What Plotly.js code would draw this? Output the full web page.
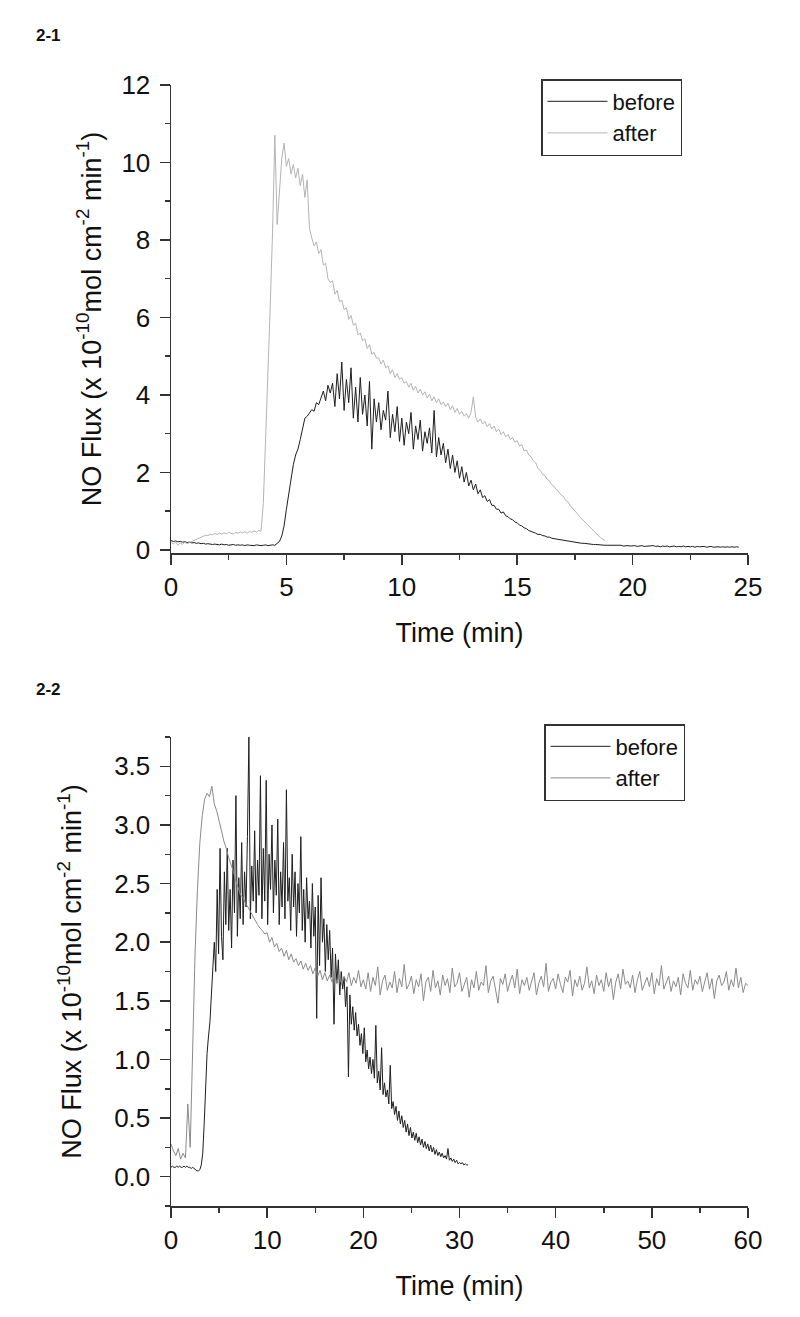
<!DOCTYPE html>
<html>
<head>
<meta charset="utf-8">
<script src="https://cdn.plot.ly/plotly-3.0.1.min.js"></script>
<style>html,body{margin:0;padding:0;background:#fff;}#chart{width:800px;height:1317px;}</style>
</head>
<body>
<div id="chart"></div>
<script>
// ---------- Panel 2-1 ----------
var p1_before_t0 = 0, p1_before_dt = 0.1;   // minutes
var p1_before = [
0.24,0.22,0.23,0.21,0.22,0.20,0.21,0.19,0.20,0.18,
0.19,0.17,0.18,0.16,0.17,0.15,0.16,0.15,0.14,0.15,
0.14,0.13,0.15,0.13,0.14,0.12,0.13,0.14,0.12,0.13,
0.12,0.13,0.11,0.13,0.12,0.12,0.11,0.13,0.12,0.11,
0.12,0.13,0.11,0.12,0.13,0.12,0.16,0.22,0.36,0.62,
1.05,1.45,1.85,2.20,2.45,2.60,2.85,3.10,3.40,3.45,
3.55,3.62,3.58,3.80,3.75,3.95,4.10,3.85,4.25,4.05,
4.30,3.70,4.55,3.90,4.85,3.60,4.40,3.80,4.70,3.40,
4.20,3.30,4.45,3.50,4.00,3.20,4.35,2.60,3.90,3.30,
3.80,3.10,3.60,3.35,4.10,2.90,3.50,3.05,3.70,2.80,
3.40,2.70,3.30,3.00,3.55,2.60,3.20,2.85,3.35,2.55,
3.05,2.75,3.15,2.50,3.60,2.40,2.90,2.45,2.75,2.25,
2.60,2.10,2.45,2.00,2.30,1.85,2.15,1.75,2.00,1.65,
1.80,1.55,1.70,1.45,1.55,1.35,1.40,1.25,1.30,1.15,
1.15,1.05,1.05,0.95,0.98,0.88,0.86,0.80,0.78,0.72,
0.70,0.64,0.62,0.57,0.55,0.50,0.48,0.45,0.43,0.40,
0.40,0.37,0.36,0.33,0.33,0.30,0.29,0.27,0.27,0.25,
0.24,0.23,0.22,0.21,0.20,0.19,0.19,0.18,0.17,0.17,
0.16,0.15,0.15,0.14,0.14,0.13,0.13,0.13,0.12,0.12,
0.12,0.11,0.12,0.11,0.11,0.12,0.10,0.11,0.11,0.10,
0.10,0.11,0.09,0.10,0.11,0.09,0.10,0.09,0.10,0.11,
0.09,0.10,0.08,0.10,0.09,0.10,0.08,0.09,0.10,0.08,
0.09,0.08,0.10,0.08,0.09,0.08,0.09,0.07,0.09,0.08,
0.08,0.09,0.07,0.08,0.09,0.07,0.08,0.08,0.07,0.08,
0.07,0.08,0.07,0.08,0.07,0.08,0.07
];
var p1_after_t0 = 0, p1_after_dt = 0.1;
var p1_after = [
0.22,0.15,0.20,0.12,0.18,0.14,0.20,0.16,0.19,0.22,
0.24,0.28,0.31,0.33,0.36,0.38,0.37,0.40,0.39,0.42,
0.40,0.43,0.41,0.44,0.42,0.45,0.43,0.41,0.45,0.43,
0.46,0.44,0.47,0.43,0.48,0.45,0.49,0.46,0.50,0.48,
1.20,2.80,4.40,6.30,8.20,10.70,8.40,9.20,10.10,10.50,
9.90,10.10,9.70,9.95,9.60,9.85,9.40,9.70,9.10,9.55,
8.30,8.05,7.85,7.95,7.65,7.75,7.35,7.40,7.00,6.90,
6.95,6.60,6.70,6.40,6.45,6.20,6.25,5.95,6.05,5.80,
5.85,5.55,5.60,5.40,5.45,5.20,5.30,5.05,5.10,4.95,
4.95,4.80,4.90,4.70,4.75,4.55,4.65,4.45,4.55,4.40,
4.45,4.30,4.35,4.20,4.30,4.12,4.22,4.05,4.15,4.00,
4.08,3.92,4.02,3.85,3.95,3.80,3.90,3.75,3.82,3.70,
3.78,3.62,3.72,3.55,3.65,3.50,3.58,3.45,3.52,3.40,
3.55,3.95,3.42,3.30,3.38,3.25,3.32,3.18,3.26,3.12,
3.20,3.05,3.12,2.98,3.05,2.92,2.98,2.85,2.90,2.78,
2.82,2.68,2.72,2.55,2.58,2.45,2.40,2.30,2.25,2.10,
2.05,1.95,1.92,1.82,1.78,1.68,1.64,1.55,1.50,1.42,
1.38,1.28,1.24,1.14,1.08,1.00,0.94,0.86,0.80,0.72,
0.68,0.60,0.55,0.48,0.42,0.38,0.32,0.28,0.24
];

// ---------- Panel 2-2 ----------
var p2_before_t0 = 0, p2_before_dt = 0.15;
var p2_before = [
0.08,0.09,0.08,0.08,0.09,0.08,0.09,0.08,0.08,0.09,
0.08,0.09,0.08,0.08,0.07,0.08,0.07,0.06,0.05,0.05,
0.06,0.10,0.20,0.45,0.85,1.05,1.20,1.32,1.55,1.75,
2.00,1.75,2.45,1.90,2.80,2.05,1.85,2.60,2.15,2.80,
2.10,2.45,1.95,2.70,2.25,3.25,2.05,2.55,2.20,2.85,
2.15,2.60,2.30,2.90,3.75,2.20,2.65,2.35,2.95,2.25,
2.70,2.40,3.42,2.20,2.80,2.35,3.38,2.15,2.75,2.45,
3.00,2.25,2.70,2.40,3.05,2.15,2.60,2.30,2.85,2.20,
3.30,2.35,2.55,2.10,2.75,2.30,2.60,2.05,2.50,2.25,
2.90,2.10,2.45,2.00,2.55,2.20,2.35,1.95,2.50,2.05,
2.30,1.35,2.40,1.80,2.55,2.00,2.20,1.75,2.15,1.85,
2.10,1.70,1.95,1.30,1.90,1.65,1.85,1.55,1.75,1.60,
1.70,1.45,1.62,0.85,1.55,1.30,1.45,1.25,1.40,1.20,
1.30,1.12,1.22,1.05,1.27,0.98,1.08,0.92,1.02,0.88,
1.00,0.84,1.29,0.80,0.90,0.74,1.10,0.70,0.80,0.68,
0.74,0.62,0.95,0.58,0.64,0.53,0.60,0.48,0.56,0.45,
0.52,0.42,0.48,0.38,0.45,0.35,0.42,0.33,0.38,0.31,
0.37,0.29,0.34,0.27,0.32,0.25,0.30,0.24,0.28,0.22,
0.27,0.21,0.25,0.19,0.23,0.18,0.21,0.17,0.20,0.16,
0.18,0.15,0.24,0.14,0.16,0.13,0.15,0.12,0.14,0.11,
0.12,0.11,0.12,0.10,0.11,0.10,0.10
];
var p2_after_t0 = 0, p2_after_dt = 0.25;
var p2_after = [
0.28,0.22,0.18,0.24,0.15,0.20,0.16,0.62,0.25,1.20,
1.90,2.45,2.85,3.08,3.22,3.27,3.24,3.33,3.18,3.12,
3.02,2.95,2.86,2.80,2.72,2.66,2.60,2.52,2.45,2.40,
2.38,2.33,2.30,2.26,2.22,2.18,2.15,2.12,2.10,2.07,
2.08,2.00,2.04,1.96,1.99,1.92,1.95,1.88,1.93,1.85,
1.90,1.83,1.86,1.80,1.84,1.77,1.82,1.76,1.80,1.73,
1.78,1.71,1.76,1.68,1.74,1.67,1.72,1.66,1.73,1.65,
1.72,1.64,1.71,1.66,1.74,1.63,1.70,1.65,1.76,1.62,
1.68,1.60,1.74,1.58,1.70,1.63,1.79,1.55,1.67,1.72,
1.59,1.66,1.61,1.75,1.57,1.69,1.62,1.81,1.60,1.64,
1.71,1.56,1.68,1.62,1.73,1.50,1.66,1.70,1.58,1.76,
1.61,1.67,1.55,1.72,1.63,1.69,1.57,1.78,1.62,1.65,
1.74,1.58,1.64,1.70,1.53,1.68,1.61,1.75,1.59,1.66,
1.63,1.80,1.57,1.67,1.71,1.60,1.48,1.69,1.64,1.73,
1.58,1.66,1.72,1.61,1.77,1.56,1.68,1.63,1.70,1.59,
1.67,1.74,1.55,1.65,1.71,1.62,1.82,1.58,1.66,1.69,
1.60,1.73,1.64,1.57,1.70,1.66,1.76,1.54,1.68,1.62,
1.71,1.59,1.65,1.79,1.61,1.67,1.56,1.72,1.63,1.68,
1.58,1.74,1.62,1.69,1.51,1.66,1.73,1.60,1.77,1.64,
1.67,1.61,1.72,1.57,1.68,1.75,1.59,1.65,1.70,1.62,
1.74,1.56,1.69,1.63,1.80,1.60,1.66,1.71,1.58,1.67,
1.62,1.70,1.55,1.73,1.65,1.61,1.76,1.59,1.68,1.64,
1.71,1.58,1.66,1.74,1.60,1.69,1.52,1.67,1.72,1.63,
1.66,1.75,1.59,1.68,1.62,1.78,1.61,1.70,1.57,1.65,
1.63
];

var seriesNames = ['before', 'after'];
var panelLabels = ['2-1', '2-2'];
var xTitle = 'Time (min)';
var yTitle = 'NO Flux (x 10<sup>-10</sup>mol cm<sup>-2</sup> min<sup>-1</sup>)';

// sampling-time grid for each recorded series
function timeGrid(t0, dt, n) {
  var t = [];
  for (var i = 0; i < n; i++) t.push(+(t0 + i * dt).toFixed(3));
  return t;
}

var FONT = 'Liberation Sans, Arial, Helvetica, sans-serif';
var colBefore = '#1e1e1e';
var colAfter1 = '#b4b4b4';
var colAfter2 = '#8a8a8a';

var traces = [
  {x: timeGrid(p1_before_t0, p1_before_dt, p1_before.length), y: p1_before, name: seriesNames[0],
   type: 'scatter', mode: 'lines', line: {color: colBefore, width: 1}, xaxis: 'x', yaxis: 'y', legend: 'legend'},
  {x: timeGrid(p1_after_t0, p1_after_dt, p1_after.length), y: p1_after, name: seriesNames[1],
   type: 'scatter', mode: 'lines', line: {color: colAfter1, width: 1}, xaxis: 'x', yaxis: 'y', legend: 'legend'},
  {x: timeGrid(p2_before_t0, p2_before_dt, p2_before.length), y: p2_before, name: seriesNames[0],
   type: 'scatter', mode: 'lines', line: {color: colBefore, width: 1}, xaxis: 'x2', yaxis: 'y2', legend: 'legend2'},
  {x: timeGrid(p2_after_t0, p2_after_dt, p2_after.length), y: p2_after, name: seriesNames[1],
   type: 'scatter', mode: 'lines', line: {color: colAfter2, width: 1}, xaxis: 'x2', yaxis: 'y2', legend: 'legend2'}
];

var axCommon = {
  showline: true, linewidth: 1.5, linecolor: '#333',
  ticks: 'outside', ticklen: 10, tickwidth: 1.5, tickcolor: '#333',
  showgrid: false, zeroline: false, automargin: false, fixedrange: true,
  tickfont: {family: FONT, size: 26, color: '#111'}
};
function ax(extra) { return Object.assign({}, axCommon, extra); }

var W = 800, H = 1317;
var xDom = [171 / W, 748 / W];
var y1Dom = [(H - 553) / H, (H - 85) / H];
var y2Dom = [(H - 1206) / H, (H - 737) / H];

var legendCommon = {xanchor: 'left', yanchor: 'top',
  bordercolor: '#333', borderwidth: 1.5, bgcolor: 'rgba(255,255,255,0)',
  font: {family: FONT, size: 22, color: '#111'}, itemwidth: 60, tracegroupgap: 0};

var layout = {
  width: W, height: H,
  margin: {l: 0, r: 0, t: 0, b: 0},
  paper_bgcolor: '#fff', plot_bgcolor: '#fff',
  font: {family: FONT, color: '#111', size: 26},
  showlegend: true,
  xaxis: ax({domain: xDom, anchor: 'y', range: [0, 25], tick0: 0, dtick: 5,
    minor: {ticks: 'outside', ticklen: 5, tickwidth: 1.5, tickcolor: '#333', tick0: 0, dtick: 2.5},
    title: {text: xTitle, font: {family: FONT, size: 27, color: '#111'}, standoff: 22}}),
  yaxis: ax({domain: y1Dom, anchor: 'x', range: [-0.08, 12], tick0: 0, dtick: 2,
    minor: {ticks: 'outside', ticklen: 5, tickwidth: 1.5, tickcolor: '#333', tick0: 0, dtick: 1},
    ticklabelstandoff: 4,
    title: {text: yTitle, font: {family: FONT, size: 27, color: '#111'}, standoff: 12}}),
  xaxis2: ax({domain: xDom, anchor: 'y2', range: [0, 60], tick0: 0, dtick: 10,
    minor: {ticks: 'outside', ticklen: 5, tickwidth: 1.5, tickcolor: '#333', tick0: 0, dtick: 5},
    title: {text: xTitle, font: {family: FONT, size: 27, color: '#111'}, standoff: 22}}),
  yaxis2: ax({domain: y2Dom, anchor: 'x2', range: [-0.25, 3.75], tick0: 0, dtick: 0.5, tickformat: '.1f',
    minor: {ticks: 'outside', ticklen: 5, tickwidth: 1.5, tickcolor: '#333', tick0: 0, dtick: 0.25},
    ticklabelstandoff: 4,
    title: {text: yTitle, font: {family: FONT, size: 27, color: '#111'}, standoff: 24}}),
  legend: Object.assign({}, legendCommon, {x: 541 / W, y: 1 - 79 / H}),
  legend2: Object.assign({}, legendCommon, {x: 544 / W, y: 1 - 724 / H}),
  annotations: [
    {text: '<b>' + panelLabels[0] + '</b>', xref: 'paper', yref: 'paper', x: 34 / W, y: 1 - 24 / H,
     xanchor: 'left', yanchor: 'top', showarrow: false, font: {family: FONT, size: 17, color: '#111'}},
    {text: '<b>' + panelLabels[1] + '</b>', xref: 'paper', yref: 'paper', x: 34 / W, y: 1 - 678 / H,
     xanchor: 'left', yanchor: 'top', showarrow: false, font: {family: FONT, size: 17, color: '#111'}}
  ]
};

Plotly.newPlot('chart', traces, layout, {staticPlot: true, displayModeBar: false});
</script>
</body>
</html>
